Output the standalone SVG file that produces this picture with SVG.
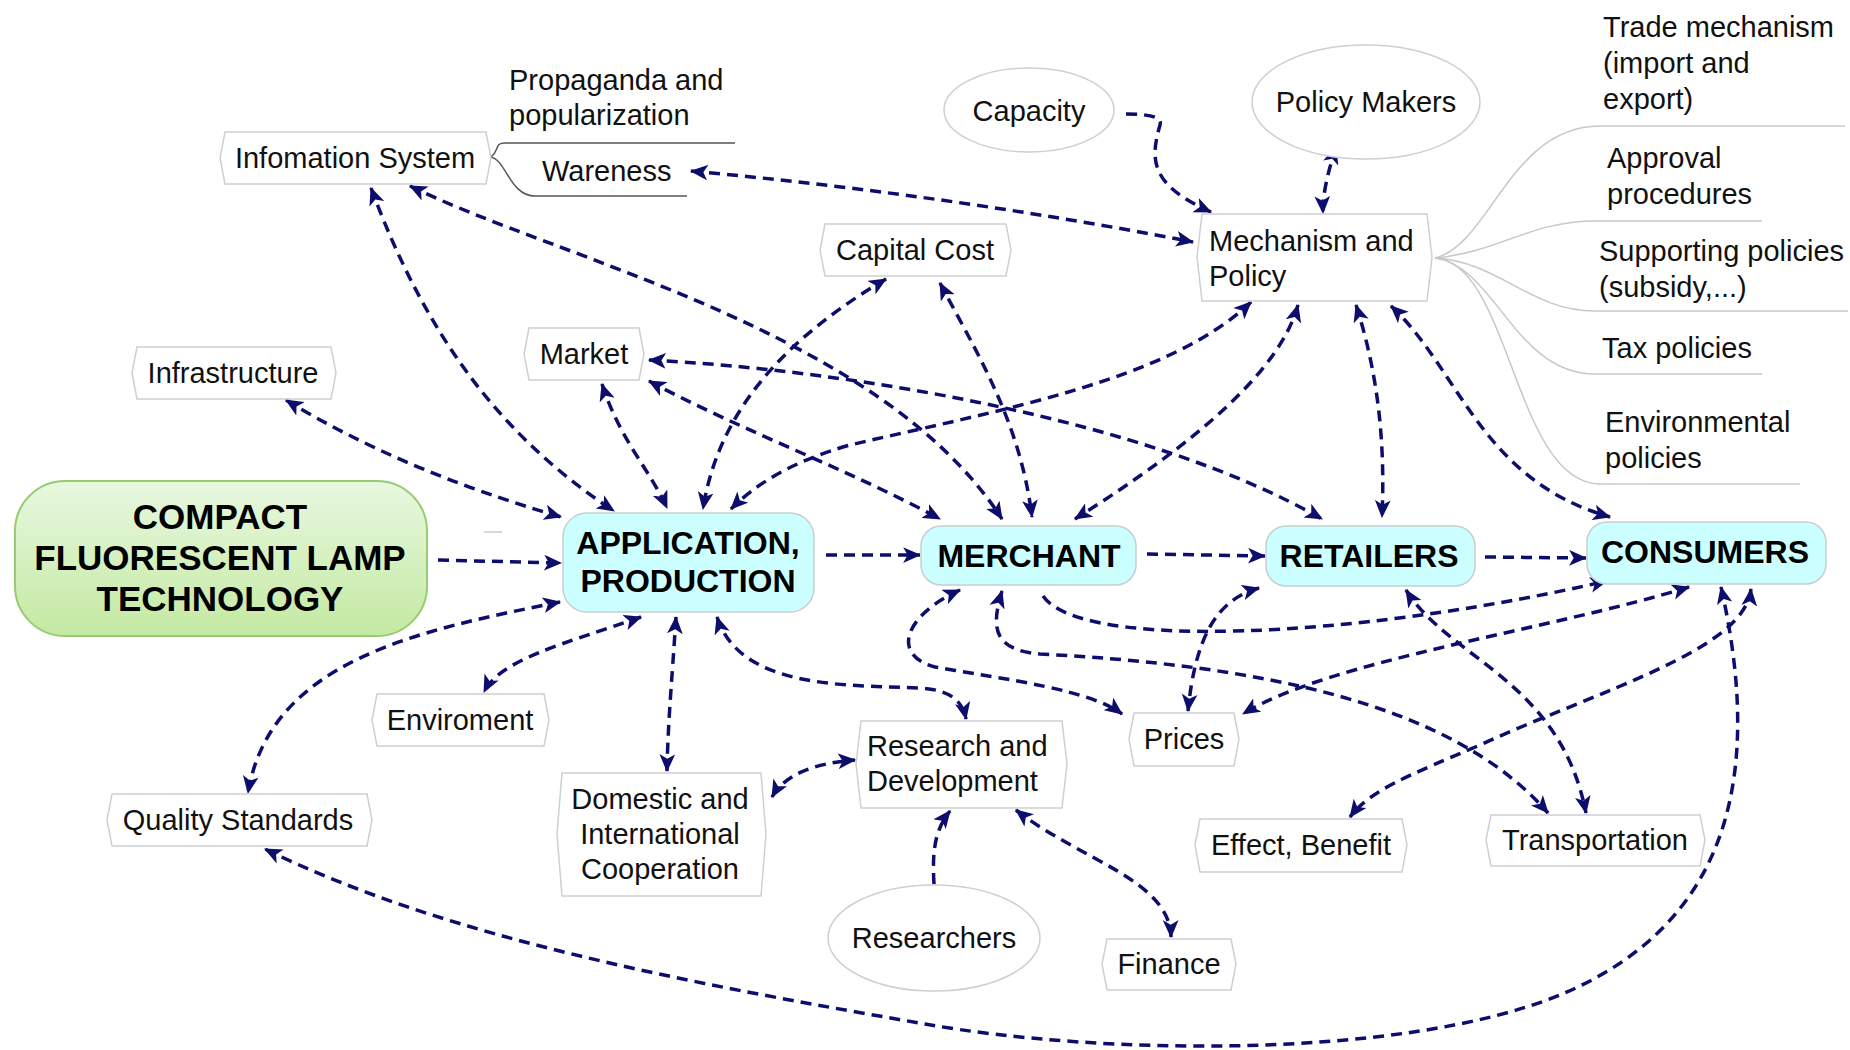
<svg xmlns="http://www.w3.org/2000/svg" width="1850" height="1050" viewBox="0 0 1850 1050">
<defs>
<linearGradient id="g" x1="0" y1="0" x2="0" y2="1">
<stop offset="0" stop-color="#e8f8e0"/>
<stop offset="1" stop-color="#c4e9a2"/>
</linearGradient>
<marker id="a" viewBox="0 0 16 14" refX="15" refY="7" markerWidth="18" markerHeight="16" markerUnits="userSpaceOnUse" orient="auto-start-reverse">
<path d="M0,0 L16,7 L0,14 L4,7 Z" fill="#0d0d6c"/>
</marker>
<style>
.c{fill:none;stroke:#0d0d6c;stroke-width:3.5;stroke-dasharray:11 7}
.b{marker-start:url(#a);marker-end:url(#a)}
.e{marker-end:url(#a)}
.box{fill:#fff;stroke:#cfcfcf;stroke-width:1.5}
.ell{fill:#fff;stroke:#cfcfcf;stroke-width:1.5}
.main{fill:#ccffff;stroke:#c6cfcf;stroke-width:1.5}
.t{font-family:"Liberation Sans",Arial,sans-serif;font-size:29px;fill:#111}
.m{text-anchor:middle}
.bt{font-family:"Liberation Sans",Arial,sans-serif;font-size:32px;font-weight:bold;fill:#000;text-anchor:middle}
.ct{font-family:"Liberation Sans",Arial,sans-serif;font-size:35px;font-weight:bold;fill:#000;text-anchor:middle}
.br{fill:none;stroke:#c8c8c8;stroke-width:1.5}
.bd{fill:none;stroke:#555;stroke-width:1.5}
</style>
</defs>
<rect width="1850" height="1050" fill="#fff"/>

<g id="branches">
<path class="br" d="M1435,258 C1490,245 1510,126 1600,126 H1845"/>
<path class="br" d="M1435,258 C1500,252 1530,221 1595,221 H1762"/>
<path class="br" d="M1435,258 C1500,262 1530,311 1595,311 H1848"/>
<path class="br" d="M1435,258 C1495,266 1515,374 1595,374 H1762"/>
<path class="br" d="M1435,258 C1510,262 1515,484 1600,484 H1800"/>
<path class="bd" d="M491,157 C500,150 494,143 505,143 H735"/>
<path class="bd" d="M491,157 C506,160 510,196 535,196 H687"/>
<line x1="484" y1="532" x2="502" y2="532" stroke="#d8d8d8" stroke-width="2"/>
</g>

<g id="connectors">
<path class="c e" d="M438,560 L561,563"/>
<path class="c e" d="M826,555 L920,555"/>
<path class="c e" d="M1147,554 L1265,556"/>
<path class="c e" d="M1485,557 L1586,558"/>
<path class="c b" d="M286,400 Q400,470 561,517"/>
<path class="c b" d="M371,188 C420,320 490,430 614,511"/>
<path class="c b" d="M410,186 C560,260 880,330 1002,519"/>
<path class="c b" d="M691,171 Q950,195 1193,242"/>
<path class="c e" d="M1126,114 Q1164,114 1160,125 C1150,160 1150,185 1211,212"/>
<path class="c b" d="M1336,147 Q1322,190 1323,213"/>
<path class="c b" d="M940,283 C975,350 1020,420 1032,517"/>
<path class="c b" d="M1251,302 C1170,380 1000,410 850,445 C790,462 755,485 731,509"/>
<path class="c b" d="M1298,305 C1280,370 1200,440 1075,519"/>
<path class="c b" d="M1356,305 C1380,380 1385,450 1382,517"/>
<path class="c b" d="M1391,306 C1460,370 1480,480 1610,517"/>
<path class="c b" d="M649,360 C850,370 1150,420 1322,519"/>
<path class="c b" d="M649,381 C740,430 850,470 940,519"/>
<path class="c b" d="M602,384 C620,440 650,470 667,508"/>
<path class="c b" d="M886,279 C800,330 720,400 703,509"/>
<path class="c b" d="M560,602 C420,630 270,660 248,793"/>
<path class="c b" d="M641,617 C560,645 500,660 484,692"/>
<path class="c b" d="M676,617 C672,680 668,720 667,771"/>
<path class="c b" d="M717,617 C740,690 850,685 920,688 C950,690 962,700 966,719"/>
<path class="c b" d="M772,797 Q790,765 855,760"/>
<path class="c e" d="M934,884 C932,850 935,830 950,811"/>
<path class="c b" d="M1016,810 C1080,860 1170,880 1171,937"/>
<path class="c b" d="M960,590 C905,615 890,655 935,667 C1010,680 1090,690 1122,714"/>
<path class="c b" d="M1002,591 C990,630 995,650 1040,654 C1250,665 1450,700 1548,813"/>
<path class="c e" d="M1043,596 C1080,650 1350,640 1607,581"/>
<path class="c b" d="M1259,588 C1215,600 1195,640 1188,711"/>
<path class="c b" d="M1689,587 C1550,630 1330,660 1243,714"/>
<path class="c b" d="M1406,590 C1450,660 1560,680 1586,813"/>
<path class="c b" d="M1751,589 C1745,650 1600,690 1480,745 C1410,775 1370,790 1350,817"/>
<path class="c b" d="M1721,587 C1760,760 1740,920 1560,995 C1400,1060 1100,1055 925,1024 C700,985 450,940 265,849"/>
</g>

<g id="compact">
<rect x="15" y="481" width="412" height="155" rx="50" fill="url(#g)" stroke="#97cc72" stroke-width="2"/>
<text class="ct" x="220" y="529">COMPACT</text>
<text class="ct" x="220" y="570">FLUORESCENT LAMP</text>
<text class="ct" x="220" y="611">TECHNOLOGY</text>
</g>
<g id="application">
<rect class="main" x="563" y="513" width="251" height="99" rx="24"/>
<text class="bt" x="688" y="554">APPLICATION,</text>
<text class="bt" x="688" y="592">PRODUCTION</text>
</g>
<g id="merchant">
<rect class="main" x="921" y="526" width="215" height="59" rx="20"/>
<text class="bt" x="1029" y="567">MERCHANT</text>
</g>
<g id="retailers">
<rect class="main" x="1266" y="526" width="209" height="60" rx="20"/>
<text class="bt" x="1369" y="567">RETAILERS</text>
</g>
<g id="consumers">
<rect class="main" x="1587" y="522" width="239" height="62" rx="20"/>
<text class="bt" x="1705" y="563">CONSUMERS</text>
</g>

<g id="infomation-system">
<polygon class="box" points="225,132 486,132 491,158 486,184 225,184 220,158"/>
<text class="t m" x="355" y="168">Infomation System</text>
</g>
<g id="propaganda">
<text class="t" x="509" y="90">Propaganda and</text>
<text class="t" x="509" y="125">popularization</text>
</g>
<g id="wareness">
<text class="t" x="542" y="181">Wareness</text>
</g>
<g id="capital-cost">
<polygon class="box" points="825,224 1006,224 1011,250 1006,276 825,276 820,250"/>
<text class="t m" x="915" y="260">Capital Cost</text>
</g>
<g id="market">
<polygon class="box" points="529,328 639,328 644,354 639,380 529,380 524,354"/>
<text class="t m" x="584" y="364">Market</text>
</g>
<g id="infrastructure">
<polygon class="box" points="137,347 331,347 336,373 331,399 137,399 132,373"/>
<text class="t m" x="233" y="383">Infrastructure</text>
</g>
<g id="capacity">
<ellipse class="ell" cx="1029" cy="110" rx="85" ry="42"/>
<text class="t m" x="1029" y="121">Capacity</text>
</g>
<g id="policy-makers">
<ellipse class="ell" cx="1366" cy="102" rx="114" ry="57"/>
<text class="t m" x="1366" y="112">Policy Makers</text>
</g>
<g id="mechanism-policy">
<polygon class="box" points="1202,214 1427,214 1432,257 1427,301 1202,301 1197,257"/>
<text class="t" x="1209" y="251">Mechanism and</text>
<text class="t" x="1209" y="286">Policy</text>
</g>
<g id="trade-mechanism">
<text class="t" x="1603" y="37">Trade mechanism</text>
<text class="t" x="1603" y="73">(import and</text>
<text class="t" x="1603" y="109">export)</text>
</g>
<g id="approval">
<text class="t" x="1607" y="168">Approval</text>
<text class="t" x="1607" y="204">procedures</text>
</g>
<g id="supporting">
<text class="t" x="1599" y="261">Supporting policies</text>
<text class="t" x="1599" y="297">(subsidy,...)</text>
</g>
<g id="tax">
<text class="t" x="1602" y="358">Tax policies</text>
</g>
<g id="environmental">
<text class="t" x="1605" y="432">Environmental</text>
<text class="t" x="1605" y="468">policies</text>
</g>
<g id="enviroment">
<polygon class="box" points="377,694 544,694 549,720 544,746 377,746 372,720"/>
<text class="t m" x="460" y="730">Enviroment</text>
</g>
<g id="quality-standards">
<polygon class="box" points="112,794 367,794 372,820 367,846 112,846 107,820"/>
<text class="t m" x="238" y="830">Quality Standards</text>
</g>
<g id="domestic">
<polygon class="box" points="562,773 761,773 766,834 761,896 562,896 557,834"/>
<text class="t m" x="660" y="809">Domestic and</text>
<text class="t m" x="660" y="844">International</text>
<text class="t m" x="660" y="879">Cooperation</text>
</g>
<g id="research">
<polygon class="box" points="861,721 1062,721 1067,764 1062,808 861,808 856,764"/>
<text class="t" x="867" y="756">Research and</text>
<text class="t" x="867" y="791">Development</text>
</g>
<g id="researchers">
<ellipse class="ell" cx="934" cy="938" rx="106" ry="53"/>
<text class="t m" x="934" y="948">Researchers</text>
</g>
<g id="finance">
<polygon class="box" points="1107,939 1231,939 1236,964 1231,990 1107,990 1102,964"/>
<text class="t m" x="1169" y="974">Finance</text>
</g>
<g id="prices">
<polygon class="box" points="1134,713 1234,713 1239,739 1234,766 1134,766 1129,739"/>
<text class="t m" x="1184" y="749">Prices</text>
</g>
<g id="effect-benefit">
<polygon class="box" points="1200,819 1402,819 1407,845 1402,872 1200,872 1195,845"/>
<text class="t m" x="1301" y="855">Effect, Benefit</text>
</g>
<g id="transportation">
<polygon class="box" points="1491,815 1700,815 1705,840 1700,866 1491,866 1486,840"/>
<text class="t m" x="1595" y="850">Transportation</text>
</g>
</svg>
